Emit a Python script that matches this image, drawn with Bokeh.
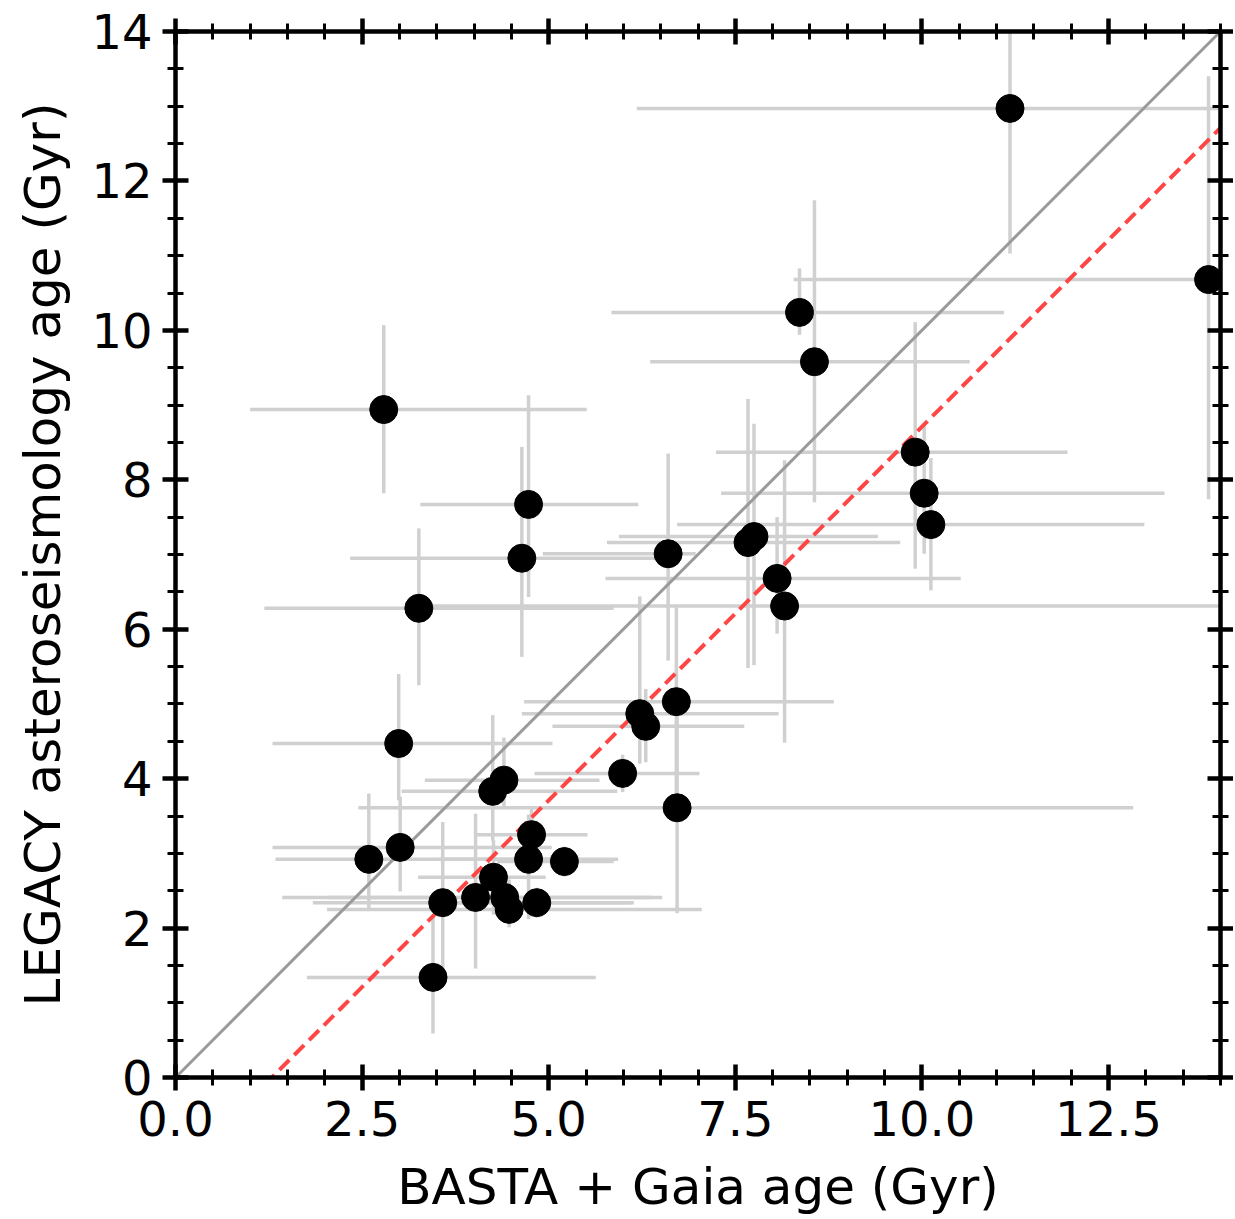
import numpy as np
from bokeh.plotting import figure
from bokeh.models import (ColumnDataSource, LinearAxis, FixedTicker,
                          PrintfTickFormatter, CustomJSTickFormatter, Range1d)
from bokeh.embed import file_html
from bokeh.resources import INLINE

# ---- data (Gyr) ----
basta_age = [11.18, 13.84, 8.36, 8.56, 2.79, 4.73, 4.64, 6.60, 3.26, 9.91,
             10.03, 10.12, 7.67, 7.75, 8.06, 8.16, 6.71, 6.22, 6.30, 5.99,
             6.72, 2.99, 4.40, 4.25, 4.77, 3.01, 2.59, 4.73, 5.21, 4.26,
             4.41, 4.47, 3.58, 4.02, 4.84, 3.45]
legacy_age = [12.97, 10.68, 10.24, 9.58, 8.94, 7.67, 6.95, 7.01, 6.28, 8.37,
              7.82, 7.40, 7.16, 7.24, 6.68, 6.31, 5.03, 4.87, 4.70, 4.07,
              3.61, 4.47, 3.98, 3.83, 3.25, 3.08, 2.92, 2.92, 2.89, 2.68,
              2.41, 2.25, 2.34, 2.41, 2.34, 1.34]
basta_err_lo = [5.00, 5.56, 2.52, 2.20, 1.79, 1.45, 2.30, 1.68, 2.07, 2.67,
                2.72, 3.40, 1.89, 1.81, 2.30, 4.71, 2.04, 1.58, 1.25, 1.18,
                4.27, 1.69, 1.06, 1.22, 0.76, 1.71, 1.25, 1.20, 0.90, 1.01,
                2.37, 2.44, 1.74, 2.59, 1.30, 1.69]
basta_err_hi = [5.00, 5.56, 2.74, 2.08, 2.72, 1.47, 1.80, 0.37, 2.61, 2.04,
                3.22, 2.86, 2.04, 1.66, 2.46, 6.00, 2.11, 1.86, 1.32, 1.03,
                6.11, 2.06, 1.28, 1.67, 0.75, 2.03, 2.79, 1.20, 0.66, 0.70,
                1.98, 2.58, 2.53, 2.50, 1.30, 2.18]
legacy_err_lo = [1.94, 2.94, 0.30, 1.88, 1.12, 1.24, 1.32, 1.43, 1.03, 1.56,
                 0.81, 0.88, 1.68, 1.72, 0.74, 1.83, 1.26, 0.67, 0.48, 0.25,
                 1.41, 0.76, 0.36, 0.66, 0.35, 0.59, 0.68, 0.80, 0.20, 0.50,
                 0.30, 0.24, 1.05, 0.95, 0.20, 0.75]
legacy_err_hi = [1.94, 2.72, 0.59, 2.16, 1.13, 1.46, 1.49, 1.34, 1.07, 1.74,
                 0.93, 0.89, 1.92, 1.51, 0.82, 1.95, 1.26, 1.57, 0.50, 0.25,
                 1.41, 0.93, 0.57, 1.02, 0.35, 0.68, 0.88, 0.60, 0.20, 0.50,
                 0.30, 0.40, 1.08, 1.12, 0.20, 0.81]
age_limits = [0, 14]
offset = 1.29          # LEGACY = BASTA - offset (dashed line)
x_major = [0, 2.5, 5, 7.5, 10, 12.5]
y_major = [0, 2, 4, 6, 8, 10, 12, 14]
minor_step = 0.5

x = np.array(basta_age)
y = np.array(legacy_age)
src = ColumnDataSource(dict(
    x=x, y=y,
    x0=x - np.array(basta_err_lo), x1=x + np.array(basta_err_hi),
    y0=y - np.array(legacy_err_lo), y1=y + np.array(legacy_err_hi),
))

p = figure(frame_width=1045, frame_height=1046,
           x_range=Range1d(*age_limits), y_range=Range1d(*age_limits),
           x_axis_location=None, y_axis_location=None,
           output_backend="svg", toolbar_location=None,
           min_border_left=175, min_border_right=12,
           min_border_top=31, min_border_bottom=138)
p.xgrid.visible = False
p.ygrid.visible = False
p.outline_line_color = None
p.background_fill_color = "white"

# error bars
eb = "#d0d0d0"
p.segment(x0="x0", y0="y", x1="x1", y1="y", source=src, line_color=eb, line_width=3.5)
p.segment(x0="x", y0="y0", x1="x", y1="y1", source=src, line_color=eb, line_width=3.5)

# reference lines
lx = np.array(age_limits, dtype=float)
p.line(lx, lx, line_color="#9a9a9a", line_width=3)
p.line(lx, lx - offset, line_color="#ff4646", line_width=4, line_dash="14 7")

# points
p.scatter("x", "y", source=src, size=28, fill_color="black", line_color="black")

minor = list(np.arange(age_limits[0], age_limits[1] + 1e-9, minor_step))

bottom = LinearAxis(axis_label="BASTA + Gaia age (Gyr)")
left = LinearAxis(axis_label="LEGACY asteroseismology age (Gyr)")
top = LinearAxis()
right = LinearAxis()
p.add_layout(bottom, "below")
p.add_layout(left, "left")
p.add_layout(top, "above")
p.add_layout(right, "right")

font = "DejaVu Sans"
for ax in [bottom, top]:
    ax.ticker = FixedTicker(ticks=x_major, minor_ticks=minor)
for ax in [left, right]:
    ax.ticker = FixedTicker(ticks=y_major, minor_ticks=minor)
bottom.formatter = PrintfTickFormatter(format="%.1f")
left.formatter = PrintfTickFormatter(format="%d")
for ax in [top, right]:
    ax.formatter = CustomJSTickFormatter(code="return ''")
    ax.major_label_standoff = 0

for ax in [bottom, left, top, right]:
    ax.axis_line_width = 4.5
    ax.axis_line_color = "black"
    ax.major_tick_line_width = 4.5
    ax.minor_tick_line_width = 3
    ax.major_tick_line_color = "black"
    ax.minor_tick_line_color = "black"
    ax.major_tick_in = 13
    ax.major_tick_out = 13
    ax.minor_tick_in = 8
    ax.minor_tick_out = 8
    ax.major_label_text_font = font
    ax.major_label_text_font_size = "48px"
    ax.major_label_text_color = "black"
    ax.axis_label_text_font = font
    ax.axis_label_text_font_size = "50px"
    ax.axis_label_text_font_style = "normal"
    ax.axis_label_text_color = "black"

bottom.major_label_standoff = 10
left.major_label_standoff = 10
bottom.axis_label_standoff = 19
left.axis_label_standoff = 16

open("out.html", "w").write(file_html(p, INLINE))
